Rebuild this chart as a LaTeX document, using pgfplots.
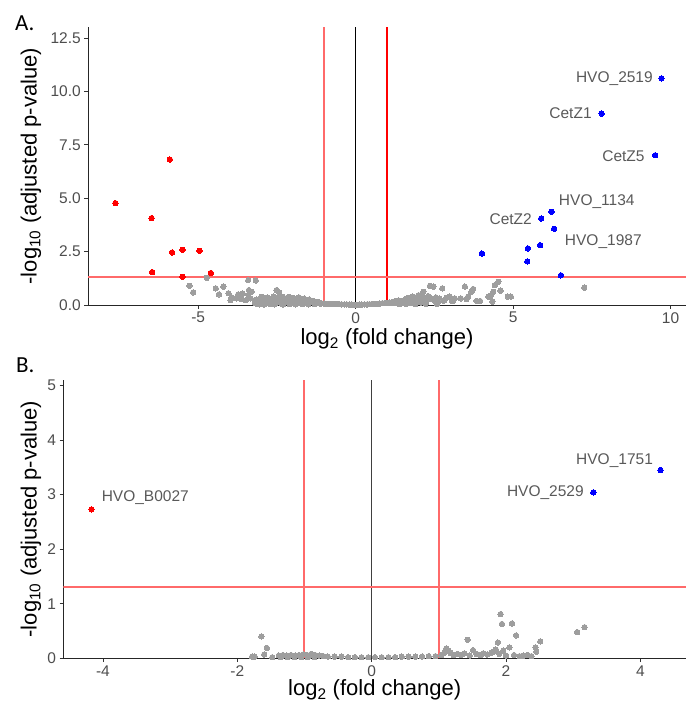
\documentclass[border=0pt]{standalone}
\usepackage{fontspec}
\setmainfont{Liberation Sans}
\newfontfamily\calib{Carlito}
\usepackage{pgfplots}
\pgfplotsset{compat=1.18}
\definecolor{tickgrey}{HTML}{4D4D4D}
\definecolor{labgrey}{HTML}{595959}
\definecolor{ptgrey}{HTML}{9E9E9E}
\definecolor{ptred}{HTML}{FF0000}
\definecolor{ptblue}{HTML}{0000FF}
\definecolor{linered}{HTML}{FF6A6A}

\pgfplotstableread{
x y
-5.28 0.90
-5.16 0.59
-4.73 1.27
-4.44 0.78
-4.20 0.86
-4.34 0.50
-4.04 0.55
-3.94 0.36
-3.97 0.23
-3.78 0.31
-3.73 0.50
-3.59 0.53
-3.62 0.27
-3.41 1.17
-3.17 1.14
-3.39 0.70
-3.30 0.62
-3.41 0.47
-3.33 0.31
-3.49 0.22
-3.04 0.31
-3.09 0.15
-2.51 0.70
-2.43 0.58
-3.20 0.10
-3.15 0.25
-3.12 0.05
-3.05 0.03
-3.00 0.38
-2.97 0.20
-2.93 0.08
-2.90 0.02
-2.88 0.30
-2.84 0.14
-2.80 0.36
-2.76 0.22
-2.72 0.05
-2.68 0.30
-2.64 0.16
-2.60 0.40
-2.58 0.03
-2.56 0.24
-2.52 0.10
-2.48 0.34
-2.44 0.18
-2.40 0.28
-2.36 0.06
-2.32 0.38
-2.30 0.02
-2.28 0.22
-2.24 0.12
-2.20 0.32
-2.16 0.18
-2.12 0.38
-2.10 0.04
-2.08 0.26
-2.04 0.08
-2.00 0.34
-1.96 0.20
-1.92 0.12
-1.90 0.03
-1.88 0.30
-1.84 0.22
-1.80 0.36
-1.76 0.14
-1.72 0.26
-1.70 0.04
-1.68 0.18
-1.64 0.30
-1.60 0.10
-1.56 0.22
-1.52 0.16
-1.50 0.03
-1.48 0.26
-1.44 0.12
-1.40 0.20
-1.36 0.14
-1.32 0.18
-1.30 0.04
-1.28 0.10
-1.24 0.15
-1.20 0.08
-1.16 0.12
-1.12 0.06
-1.08 0.08
-1.00 0.07
-0.92 0.06
-0.84 0.06
-0.76 0.05
-0.68 0.05
-0.60 0.04
-0.52 0.04
-0.44 0.03
-0.36 0.03
-0.28 0.03
-0.20 0.02
-0.12 0.02
-0.04 0.01
0.04 0.01
0.12 0.02
0.20 0.02
0.28 0.03
0.36 0.03
0.44 0.04
0.52 0.04
0.60 0.05
0.68 0.06
0.76 0.07
0.84 0.08
0.92 0.09
1.00 0.10
1.08 0.12
1.16 0.14
1.20 0.08
1.25 0.18
1.30 0.12
1.36 0.22
1.40 0.04
1.42 0.10
1.48 0.20
1.52 0.15
1.58 0.28
1.60 0.04
1.62 0.12
1.68 0.34
1.72 0.20
1.76 0.08
1.80 0.40
1.84 0.26
1.88 0.14
1.90 0.04
1.92 0.36
1.96 0.22
2.00 0.46
2.04 0.30
2.08 0.12
2.12 0.38
2.15 0.62
2.20 0.28
2.22 0.05
2.25 0.18
2.30 0.42
2.36 0.90
2.40 0.30
2.47 0.86
2.50 0.20
2.55 0.36
2.58 0.05
2.60 0.10
2.66 0.30
2.75 0.78
2.80 0.20
2.88 0.34
2.99 0.39
3.05 0.19
3.10 0.19
3.15 0.31
3.34 0.31
3.47 0.86
3.52 0.27
3.57 0.39
3.68 0.62
3.73 0.75
3.84 0.19
3.95 0.19
4.21 0.39
4.29 0.43
4.34 0.16
4.37 0.62
4.42 0.93
4.53 1.09
4.60 0.67
4.83 0.39
4.93 0.39
7.26 0.81
}\greyA

\pgfplotstableread{
x y
-7.63 4.77
-5.90 6.81
-6.48 4.07
-5.83 2.46
-5.50 2.58
-4.96 2.54
-6.46 1.54
-5.50 1.32
-4.60 1.50
}\redA

\pgfplotstableread{
x y
9.71 10.61
7.81 8.96
9.51 7.01
6.22 4.36
5.89 4.05
6.30 3.57
5.86 2.80
5.47 2.65
4.01 2.41
5.45 2.04
6.52 1.39
}\blueA

\pgfplotstableread{
x y
-1.64 0.40
-1.56 0.19
-1.60 0.07
-1.74 0.03
-1.78 0.03
-1.48 0.02
-1.38 0.05
-1.35 0.02
-1.32 0.06
-1.26 0.05
-1.25 0.02
-1.20 0.06
-1.15 0.02
-1.14 0.05
-1.08 0.06
-1.05 0.02
-1.02 0.07
-0.96 0.06
-0.95 0.02
-0.90 0.08
-0.85 0.02
-0.84 0.06
-0.78 0.05
-0.72 0.04
-0.65 0.03
-0.55 0.03
-0.45 0.03
-0.35 0.02
-0.25 0.02
-0.15 0.02
-0.05 0.02
0.05 0.02
0.15 0.02
0.25 0.02
0.35 0.02
0.45 0.03
0.55 0.03
0.65 0.03
0.75 0.03
0.85 0.04
0.95 0.04
1.04 0.06
1.08 0.10
1.11 0.18
1.14 0.14
1.17 0.10
1.22 0.06
1.28 0.08
1.33 0.06
1.38 0.09
1.43 0.34
1.46 0.05
1.51 0.15
1.56 0.08
1.62 0.06
1.66 0.09
1.72 0.07
1.78 0.10
1.82 0.12
1.85 0.16
1.88 0.29
1.90 0.08
1.92 0.81
1.94 0.63
1.96 0.14
2.00 0.05
2.05 0.20
2.09 0.64
2.12 0.06
2.15 0.42
2.20 0.04
2.26 0.05
2.32 0.06
2.38 0.04
2.44 0.20
2.45 0.12
2.51 0.31
3.06 0.48
3.17 0.57
}\greyB

\pgfplotstableread{
x y
-4.17 2.73
}\redB

\pgfplotstableread{
x y
4.30 3.45
3.30 3.04
}\blueB

\pgfplotsset{
  volc/.style={
    scale only axis,
    axis lines=left,
    axis line style={-, black!85, line width=0.9pt},
    tick style={black!80, line width=0.7pt},
    tick align=outside,
    major tick length=3.7pt,
    tick label style={font=\fontsize{15.5}{18}\selectfont, text=tickgrey},
    label style={font=\fontsize{22}{26}\selectfont, text=black},
    xtick pos=bottom, ytick pos=left,
  },
  greypt/.style={color=ptgrey, only marks, mark=*, mark size=2.7pt, mark options={draw=ptgrey, fill=ptgrey, line width=0pt}},
  redpt/.style={color=ptred, only marks, mark=*, mark size=2.7pt, mark options={draw=ptred, fill=ptred, line width=0pt}},
  bluept/.style={color=ptblue, only marks, mark=*, mark size=2.7pt, mark options={draw=ptblue, fill=ptblue, line width=0pt}},
  refline/.style={color=linered, line width=2pt},
}
\tikzset{genelab/.style={font=\fontsize{15.5}{18}\selectfont, text=labgrey, inner sep=0pt}}

\begin{document}
\begin{tikzpicture}[x=1pt,y=1pt]
\path[use as bounding box] (0,0) rectangle (686,702);

% Panel A
\begin{axis}[volc,
  at={(88pt,397pt)}, anchor=south west,
  width=598pt, height=277.7pt,
  xmin=-8.5, xmax=10.49, ymin=0, ymax=13,
  xtick={-5,0,5,10}, xticklabels={-5,0,5,10},
  ytick={0,2.5,5,7.5,10,12.5}, yticklabels={0.0,2.5,5.0,7.5,10.0,12.5},
  xlabel={log\textsubscript{2} (fold change)},
  ylabel={-log\textsubscript{10} (adjusted p-value)},
  xlabel style={at={(axis description cs:0.5,-0.122)}, anchor=center},
  ylabel style={at={(axis description cs:-0.0953,0.5)}, anchor=center},
]
\addplot[greypt] table[x=x,y=y] {\greyA};
\addplot[redpt] table[x=x,y=y] {\redA};
\addplot[bluept] table[x=x,y=y] {\blueA};
\addplot[refline] coordinates {(-1,0) (-1,13)};
\addplot[color=ptred, line width=1.4pt] coordinates {(1,0) (1,13)};
\addplot[black, line width=1.2pt] coordinates {(0,0) (0,13)};
\addplot[refline] coordinates {(-8.5,1.30) (10.49,1.30)};
\node[genelab, anchor=east] at (axis cs:9.44,10.61) {HVO\_2519};
\node[genelab, anchor=east] at (axis cs:7.50,8.96) {CetZ1};
\node[genelab, anchor=east] at (axis cs:9.18,6.96) {CetZ5};
\node[genelab, anchor=west] at (axis cs:6.45,4.86) {HVO\_1134};
\node[genelab, anchor=east] at (axis cs:5.60,4.04) {CetZ2};
\node[genelab, anchor=west] at (axis cs:6.64,2.96) {HVO\_1987};
\end{axis}

% Panel B
\begin{axis}[volc,
  at={(63.3pt,43.7pt)}, anchor=south west,
  width=622.7pt, height=278.3pt,
  xmin=-4.59, xmax=4.68, ymin=0, ymax=5.1,
  xtick={-4,-2,0,2,4}, xticklabels={-4,-2,0,2,4},
  ytick={0,1,2,3,4,5}, yticklabels={0,1,2,3,4,5},
  xlabel={log\textsubscript{2} (fold change)},
  ylabel={-log\textsubscript{10} (adjusted p-value)},
  xlabel style={at={(axis description cs:0.5,-0.114)}, anchor=center},
  ylabel style={at={(axis description cs:-0.0518,0.5)}, anchor=center},
]
\addplot[greypt] table[x=x,y=y] {\greyB};
\addplot[redpt] table[x=x,y=y] {\redB};
\addplot[bluept] table[x=x,y=y] {\blueB};
\addplot[refline] coordinates {(-1,0) (-1,5.1)};
\addplot[refline] coordinates {(1,0) (1,5.1)};
\addplot[black!75, line width=1.2pt] coordinates {(0,0) (0,5.1)};
\addplot[refline] coordinates {(-4.59,1.30) (4.68,1.30)};
\node[genelab, anchor=west] at (axis cs:-4.02,2.94) {HVO\_B0027};
\node[genelab, anchor=east] at (axis cs:4.19,3.63) {HVO\_1751};
\node[genelab, anchor=east] at (axis cs:3.16,3.04) {HVO\_2529};
\end{axis}

\node[font=\calib\fontsize{23}{26}\selectfont, anchor=base west, inner sep=0pt] at (15,671) {A.};
\node[font=\calib\fontsize{23}{26}\selectfont, anchor=base west, inner sep=0pt] at (16,329) {B.};
\end{tikzpicture}
\end{document}
